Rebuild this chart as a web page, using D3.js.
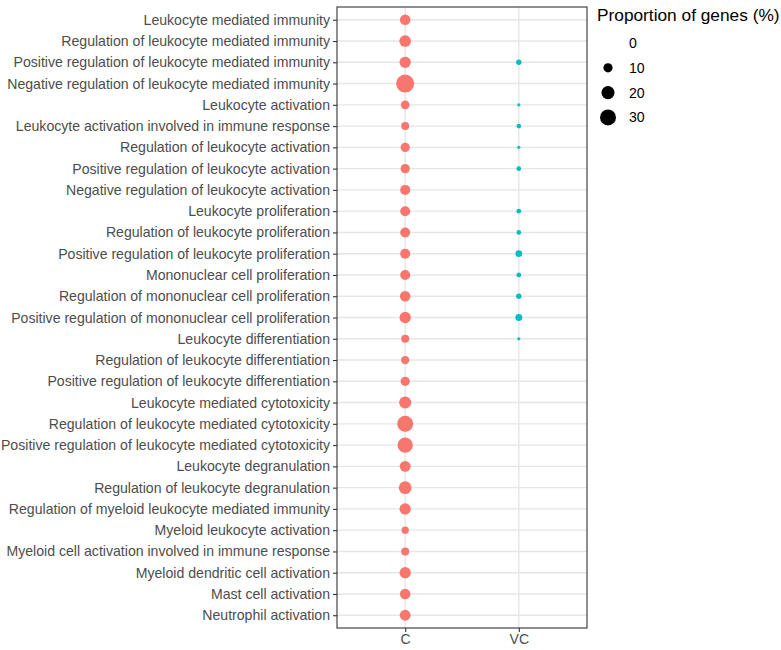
<!DOCTYPE html>
<html>
<head>
<meta charset="utf-8">
<title>GO terms dot plot</title>
<style>
body { margin: 0; background: #fff; }
text { font-family: "Liberation Sans", Arial, sans-serif; }
.grid line { stroke: #e6e6e6; stroke-width: 1.4px; }
.axis text { fill: #4d4d4d; font-size: 14.1px; }
.axis line, .axis path { stroke: #333; stroke-width: 1.1px; }
</style>
</head>
<body>
<svg width="781" height="650"></svg>
<script src="https://cdn.jsdelivr.net/npm/d3@7"></script>
<script>

var terms = [
  "Leukocyte mediated immunity",
  "Regulation of leukocyte mediated immunity",
  "Positive regulation of leukocyte mediated immunity",
  "Negative regulation of leukocyte mediated immunity",
  "Leukocyte activation",
  "Leukocyte activation involved in immune response",
  "Regulation of leukocyte activation",
  "Positive regulation of leukocyte activation",
  "Negative regulation of leukocyte activation",
  "Leukocyte proliferation",
  "Regulation of leukocyte proliferation",
  "Positive regulation of leukocyte proliferation",
  "Mononuclear cell proliferation",
  "Regulation of mononuclear cell proliferation",
  "Positive regulation of mononuclear cell proliferation",
  "Leukocyte differentiation",
  "Regulation of leukocyte differentiation",
  "Positive regulation of leukocyte differentiation",
  "Leukocyte mediated cytotoxicity",
  "Regulation of leukocyte mediated cytotoxicity",
  "Positive regulation of leukocyte mediated cytotoxicity",
  "Leukocyte degranulation",
  "Regulation of leukocyte degranulation",
  "Regulation of myeloid leukocyte mediated immunity",
  "Myeloid leukocyte activation",
  "Myeloid cell activation involved in immune response",
  "Myeloid dendritic cell activation",
  "Mast cell activation",
  "Neutrophil activation"
];

var groups = ["C", "VC"];
var groupColors = ["#F8766D", "#00BFC4"];

// proportion of genes (%) per term, null = not enriched
var valuesC = [13, 16, 15, 38, 8.8, 7.5, 10, 10, 11.7, 11.7, 11.7, 11.7, 11.7, 13, 15,
               7.5, 8, 10, 17, 30, 27.5, 14, 19, 15, 6.3, 7.5, 15, 13, 14];
var valuesVC = [null, null, 3.4, null, 1.2, 2.6, 1.2, 2.6, null, 2.6, 2.6, 5.2, 2.6, 3.4, 5.7,
                1.2, null, null, null, null, null, null, null, null, null, null, null, null, null];

var legendBreaks = [0, 10, 20, 30];

var svg = d3.select("svg");
var panel = { left: 337, top: 7, right: 587, bottom: 628 };

var x = d3.scalePoint().domain(groups)
    .range([panel.left, panel.right]).padding(0.6);
var y = d3.scalePoint().domain(terms)
    .range([panel.top, panel.bottom]).padding(0.6);
var r = d3.scaleSqrt().domain([0, 38]).range([0, 9]);
var color = d3.scaleOrdinal().domain(groups).range(groupColors);

var points = [];
terms.forEach(function(t, i) {
  if (valuesC[i] != null) points.push({ term: t, group: "C", value: valuesC[i] });
  if (valuesVC[i] != null) points.push({ term: t, group: "VC", value: valuesVC[i] });
});

// grid
var grid = svg.append("g").attr("class", "grid");
grid.selectAll(".h").data(terms).enter().append("line")
    .attr("x1", panel.left).attr("x2", panel.right)
    .attr("y1", function(d) { return y(d); }).attr("y2", function(d) { return y(d); });
grid.selectAll(".v").data(groups).enter().append("line")
    .attr("y1", panel.top).attr("y2", panel.bottom)
    .attr("x1", function(d) { return x(d); }).attr("x2", function(d) { return x(d); });

// dots
svg.append("g").selectAll("circle").data(points).enter().append("circle")
    .attr("cx", function(d) { return x(d.group); })
    .attr("cy", function(d) { return y(d.term); })
    .attr("r", function(d) { return r(d.value); })
    .attr("fill", function(d) { return color(d.group); });

// panel border
svg.append("rect")
    .attr("x", panel.left).attr("y", panel.top)
    .attr("width", panel.right - panel.left).attr("height", panel.bottom - panel.top)
    .attr("fill", "none").attr("stroke", "#333").attr("stroke-width", 1.1);

// axes
var yAxis = svg.append("g").attr("class", "axis")
    .attr("transform", "translate(" + panel.left + ",0)")
    .call(d3.axisLeft(y).tickSize(4).tickPadding(3));
yAxis.select(".domain").remove();

var xAxis = svg.append("g").attr("class", "axis")
    .attr("transform", "translate(0," + panel.bottom + ")")
    .call(d3.axisBottom(x).tickSize(4).tickPadding(2));
xAxis.select(".domain").remove();

// legend
var legend = svg.append("g").attr("transform", "translate(597,0)");
legend.append("text")
    .attr("x", 0).attr("y", 21)
    .attr("font-size", 17.3).attr("fill", "#000")
    .text("Proportion of genes (%)");
var items = legend.selectAll(".item").data(legendBreaks).enter().append("g")
    .attr("transform", function(d, i) { return "translate(0," + (43 + i * 24.8) + ")"; });
items.append("circle")
    .attr("cx", 11).attr("cy", 0)
    .attr("r", function(d) { return r(d); })
    .attr("fill", "#000");
items.append("text")
    .attr("x", 32).attr("y", 0).attr("dy", "0.35em")
    .attr("font-size", 14.1).attr("fill", "#000")
    .text(function(d) { return d; });

</script>
</body>
</html>
